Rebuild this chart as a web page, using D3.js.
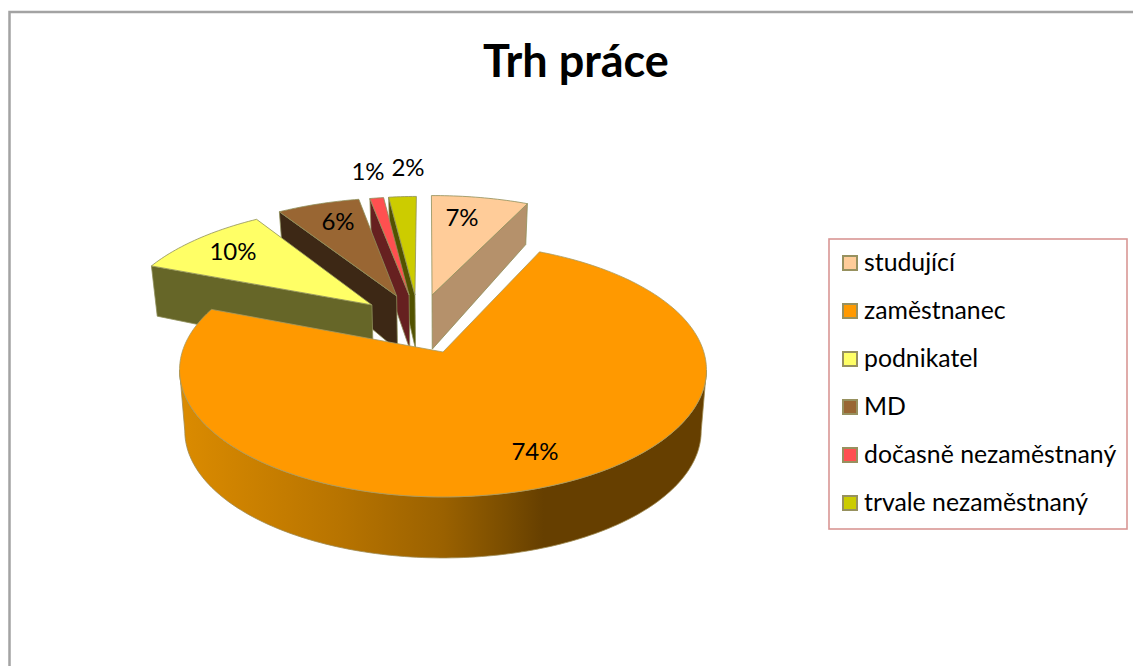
<!DOCTYPE html>
<html><head><meta charset="utf-8">
<script src="https://cdn.jsdelivr.net/npm/d3@7/dist/d3.min.js"></script>
<style>html,body{margin:0;padding:0;background:#fff;overflow:hidden}svg{display:block}text{font-family:Lato,Carlito,sans-serif;fill:#000}</style>
</head><body><svg id="c" width="1133" height="666"></svg>
<script>
const titleText = "Trh práce";
const categories = ["studující","zaměstnanec","podnikatel","MD","dočasně nezaměstnaný","trvale nezaměstnaný"];
const values = [7,74,10,6,1,2];
const labels = ["7%","74%","10%","6%","1%","2%"];
const topColors = ["#FFCC99","#FF9900","#FFFF66","#996633","#FF5050","#CCCC00"];
const sideColors = ["#B5916B","#663F00","#666628","#3D2815","#662020","#525200"];

const svg = d3.select("#c");
const frame = {x:9.5, y:12, w:1140, h:670};
svg.append("rect").attr("x",frame.x).attr("y",frame.y).attr("width",frame.w).attr("height",frame.h)
  .attr("fill","#fff").attr("stroke","#a3a3a3").attr("stroke-width",2.5);

svg.append("text").attr("x",576).attr("y",77).attr("text-anchor","middle")
  .attr("font-size",45).attr("font-weight",700).text(titleText);

// perspective disc projection
const K=0.1417, CX=443, AY=352, H=124.4, R=260.8;
function proj(X,Y,z){
  const w=1+K*Y;
  const shrink=1-0.02*z;
  const drop=Y<0?61:61-14*Y;
  return [CX+R*X/w*shrink, AY-H*Y/w+z*drop];
}
const line=d3.line();
// explosion offset of each slice on the disc plane
const offsets=[[-.045,.49],[0,0],[-.288,.40],[-.19,.481],[-.139,.49],[-.115,.49]];
const radii=[1.04,1,1.02,1.025,1.025,1.03];
const rot=-0.5*Math.PI/180;
const arcs=d3.pie().sort(null).value(d=>d).startAngle(rot).endAngle(2*Math.PI+rot)(values);

function rimPoint(i,a,z){
  const r=radii[i],o=offsets[i];
  return proj(o[0]+r*Math.sin(a),o[1]+r*Math.cos(a),z);
}
function arcPts(i,a0,a1,z){
  const n=Math.max(2,Math.ceil(Math.abs(a1-a0)/0.02));
  return d3.range(n+1).map(k=>rimPoint(i,a0+(a1-a0)*k/n,z));
}
const defs=svg.append("defs");
const grad=defs.append("linearGradient").attr("id","rim").attr("gradientUnits","userSpaceOnUse")
  .attr("x1",180).attr("x2",707).attr("y1",0).attr("y2",0);
[[0,"#DB8B00"],[.3,"#B87400"],[.5,"#9A6100"],[.62,"#7A4D00"],[.69,"#663F00"],[1,"#663F00"]]
  .forEach(s=>grad.append("stop").attr("offset",s[0]).attr("stop-color",s[1]));

const edge="#8f8f5a";
function poly(pts,fill,stroke){
  return svg.append("path").attr("d",line(pts)+"Z").attr("fill",fill)
    .attr("stroke",stroke||edge).attr("stroke-width",.8).attr("stroke-linejoin","round");
}
// painter's order, back to front; wall = which radial edge faces the viewer
const order=[5,4,3,2,0];
order.forEach(i=>{
  const a=arcs[i];
  const wallAngle = i===0 ? a.endAngle : a.startAngle;
  const o=offsets[i];
  const apexT=proj(o[0],o[1],0), apexB=proj(o[0],o[1],1);
  const wt=rimPoint(i,wallAngle,0), wb=rimPoint(i,wallAngle,1);
  poly([apexT,wt,wb,apexB],sideColors[i]);
  poly([apexT].concat(arcPts(i,a.startAngle,a.endAngle,0)),topColors[i]);
});
// main slice
{
  const i=1,a=arcs[1];
  const s=Math.asin(K);
  const front0=Math.PI/2+s, front1=Math.PI*1.5-s;
  const topA=arcPts(i,front0,front1,0), botA=arcPts(i,front1,front0,1);
  poly(topA.concat(botA),"url(#rim)","#a08a50");
  poly([proj(0,0,0)].concat(arcPts(i,a.startAngle,a.endAngle,0)),topColors[i],"#a89a60");
}

// data labels
const labelPos=[[462,217],[535,451],[233,251],[338,221],[368,171],[408,167]];
svg.selectAll("text.lab").data(labels).join("text").attr("class","lab")
  .attr("x",(d,i)=>labelPos[i][0]).attr("y",(d,i)=>labelPos[i][1]+8.5)
  .attr("text-anchor","middle").attr("font-size",24).text(d=>d);

// legend
svg.append("rect").attr("x",829).attr("y",239).attr("width",298).attr("height",290)
  .attr("fill","#fff").attr("stroke","#d99694").attr("stroke-width",1.6);
const ly=d3.scalePoint().domain(categories).range([263,503]);
const lg=svg.selectAll("g.leg").data(categories).join("g").attr("class","leg")
  .attr("transform",d=>`translate(0,${ly(d)})`);
lg.append("rect").attr("x",843).attr("y",-7).attr("width",14).attr("height",14)
  .attr("fill",(d,i)=>topColors[i]).attr("stroke","#97915f").attr("stroke-width",2);
lg.append("text").attr("x",864).attr("y",7.5).attr("font-size",24.8).text(d=>d);
</script></body></html>
